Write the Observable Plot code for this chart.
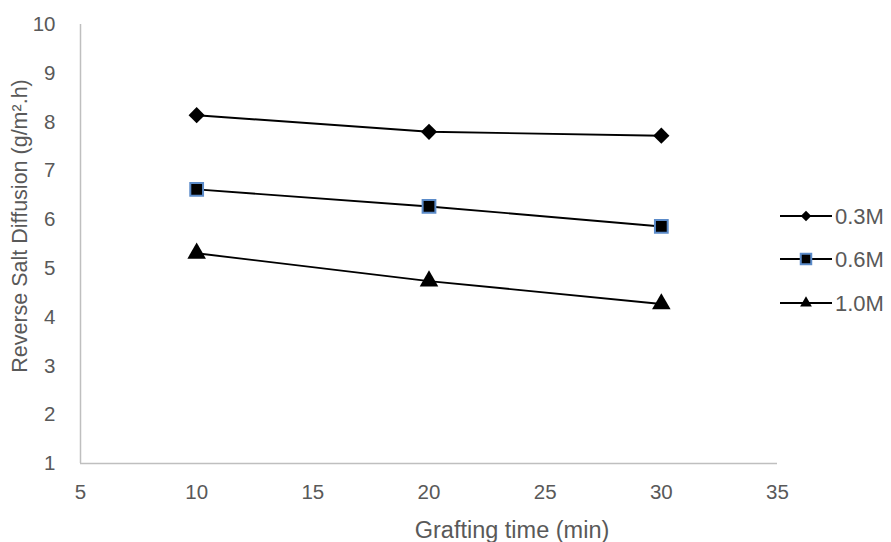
<!DOCTYPE html>
<html>
<head>
<meta charset="utf-8">
<script src="https://cdn.jsdelivr.net/npm/d3@7"></script>
<script src="https://cdn.jsdelivr.net/npm/@observablehq/plot@0.6"></script>
<style>
  html, body { margin: 0; padding: 0; background: #fff; }
  #chart { position: relative; width: 891px; height: 542px; }
</style>
</head>
<body>
<div id="chart"></div>
<script>
const times = [10, 20, 30];
const seriesNames = ["0.3M", "0.6M", "1.0M"];
const values03 = [8.14, 7.80, 7.72];
const values06 = [6.62, 6.27, 5.86];
const values10 = [5.31, 4.74, 4.27];
const xTicks = [5, 10, 15, 20, 25, 30, 35];
const yTicks = [1, 2, 3, 4, 5, 6, 7, 8, 9, 10];
const xTitle = "Grafting time (min)";
const yTitle = "Reverse Salt Diffusion (g/m².h)";

const symbols = {"0.3M": "diamond2", "0.6M": "square", "1.0M": "triangle"};
const radii = {"0.3M": 7.3, "0.6M": 7.2, "1.0M": 6.9};
const strokes = {"0.3M": "black", "0.6M": "#5b8bc9", "1.0M": "black"};

const allValues = [values03, values06, values10];
const data = [];
seriesNames.forEach((s, i) => times.forEach((t, j) => data.push({series: s, time: t, value: allValues[i][j]})));

const font = "Liberation Sans, Arial, sans-serif";
const textColor = "#595959";

const marks = [
  Plot.ruleX([5], {stroke: "#bfbfbf", strokeWidth: 1.5}),
  Plot.ruleY([1], {stroke: "#bfbfbf", strokeWidth: 1.5}),
  Plot.axisX({ticks: xTicks, tickSize: 0, tickPadding: 21, label: null, fontSize: 20.5, color: textColor}),
  Plot.axisY({ticks: yTicks, tickSize: 0, tickPadding: 25, label: null, fontSize: 20.5, color: textColor}),
  Plot.line(data, {x: "time", y: "value", z: "series", stroke: "black", strokeWidth: 1.9}),
];
seriesNames.forEach(s => {
  marks.push(Plot.dot(data.filter(d => d.series === s), {
    x: "time", y: "value", symbol: () => symbols[s], r: radii[s],
    fill: "black", stroke: strokes[s], strokeWidth: s === "0.6M" ? 2 : 0
  }));
});
marks.push(Plot.text([xTitle], {frameAnchor: "bottom", textAnchor: "middle", dx: 83, dy: 67, fontSize: 23.5, fill: textColor, lineAnchor: "middle"}));
marks.push(Plot.text([yTitle], {frameAnchor: "left", textAnchor: "middle", rotate: -90, dx: -60, dy: -18, fontSize: 21.5, fill: textColor, lineAnchor: "middle"}));

const plot = Plot.plot({
  width: 891,
  height: 542,
  marginLeft: 80,
  marginRight: 114,
  marginTop: 24,
  marginBottom: 79,
  style: {fontFamily: font, background: "white"},
  x: {domain: [5, 35]},
  y: {domain: [1, 10]},
  symbol: {type: "identity"},
  marks
});
document.getElementById("chart").appendChild(plot);

// legend
const svg = d3.select(plot);
const legend = svg.append("g").attr("font-family", font).attr("text-anchor", "start");
const legendY = [216, 259, 303];
const legendSymbols = [d3.symbolDiamond2, d3.symbolSquare, d3.symbolTriangle];
const legendSizes = [70, 110, 60];
seriesNames.forEach((s, i) => {
  const g = legend.append("g").attr("transform", `translate(0,${legendY[i]})`);
  g.append("line").attr("x1", 780).attr("x2", 832).attr("y1", 0).attr("y2", 0).attr("stroke", "black").attr("stroke-width", 1.9);
  g.append("path").attr("d", d3.symbol(legendSymbols[i], legendSizes[i])())
    .attr("transform", `translate(806,0)`)
    .attr("fill", "black")
    .attr("stroke", strokes[s]).attr("stroke-width", s === "0.6M" ? 2 : 0);
  g.append("text").attr("x", 835).attr("y", 0).attr("dy", "0.35em").attr("font-size", 22).attr("fill", textColor).text(s);
});
</script>
</body>
</html>
